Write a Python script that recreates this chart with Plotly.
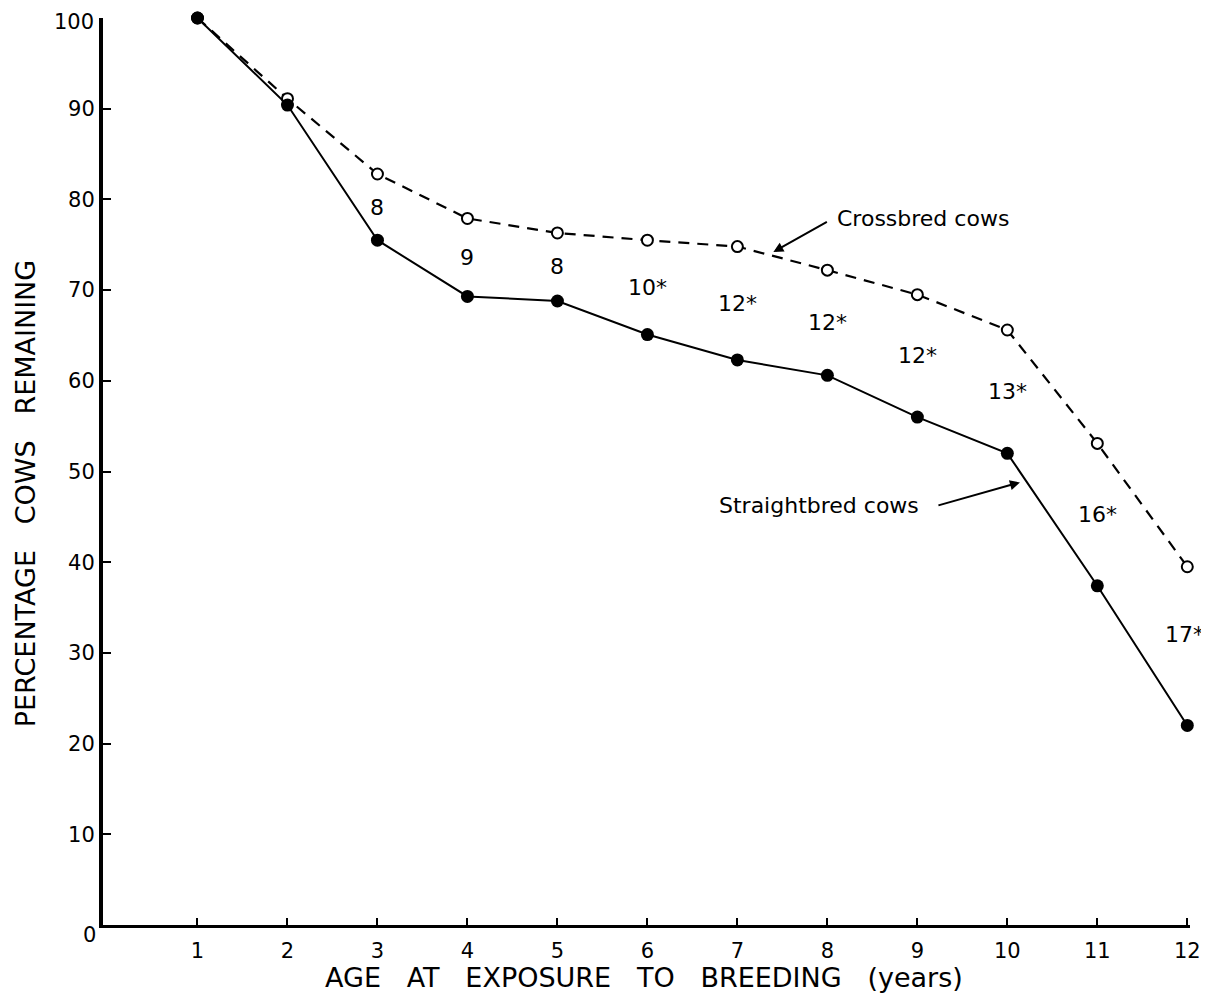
import plotly.graph_objects as go

ages = [1, 2, 3, 4, 5, 6, 7, 8, 9, 10, 11, 12]
straightbred = [100, 90.4, 75.5, 69.3, 68.8, 65.1, 62.3, 60.6, 56.0, 52.0, 37.4, 22.0]
crossbred = [100, 91.1, 82.8, 77.9, 76.3, 75.5, 74.8, 72.2, 69.5, 65.6, 53.1, 39.5]
diff_ages = [3, 4, 5, 6, 7, 8, 9, 10, 11, 12]
diff_labels = ["8", "9", "8", "10*", "12*", "12*", "12*", "13*", "16*", "17*"]
y_ticks = [10, 20, 30, 40, 50, 60, 70, 80, 90, 100]

FONT = "DejaVu Sans"

fig = go.Figure()
fig.add_trace(go.Scatter(
    x=ages, y=crossbred, mode="lines+markers", name="Crossbred cows",
    line=dict(color="black", width=2.2, dash="11px,8px"),
    marker=dict(symbol="circle", size=11, color="white", line=dict(color="black", width=2)),
    cliponaxis=False,
))
fig.add_trace(go.Scatter(
    x=ages, y=straightbred, mode="lines+markers", name="Straightbred cows",
    line=dict(color="black", width=2),
    marker=dict(symbol="circle", size=13, color="black"),
    cliponaxis=False,
))

# difference labels midway between the two curves
mid = {a: (s + c) / 2 for a, s, c in zip(ages, straightbred, crossbred)}
for a, lab in zip(diff_ages, diff_labels):
    fig.add_annotation(x=a, y=mid[a], text=lab, showarrow=False,
                       xanchor="center", yanchor="middle",
                       yshift=12 if a == 12 else 0, xshift=-3 if a == 12 else 0,
                       font=dict(family=FONT, size=22, color="black"))

# series labels with arrows
fig.add_annotation(x=8.09, y=77.9, text="Crossbred cows", showarrow=False,
                   xanchor="left", yanchor="middle",
                   font=dict(family=FONT, size=22, color="black"))
fig.add_annotation(x=7.4, y=74.2, ax=57, ay=-32, text=" ", showarrow=True,
                   arrowhead=2, arrowsize=1, arrowwidth=2, arrowcolor="black")
fig.add_annotation(x=6.77, y=46.2, text="Straightbred cows", showarrow=False,
                   xanchor="left", yanchor="middle",
                   font=dict(family=FONT, size=22, color="black"))
fig.add_annotation(x=10.14, y=48.8, ax=-85, ay=24, text=" ", showarrow=True,
                   arrowhead=2, arrowsize=1, arrowwidth=2, arrowcolor="black")

# origin label and top tick label (kept inside the figure edge)
fig.add_annotation(xref="paper", yref="y", x=0, y=0, text="0", showarrow=False,
                   xanchor="right", yanchor="top", xshift=-5, yshift=4,
                   font=dict(family=FONT, size=21, color="black"))
fig.add_annotation(xref="paper", yref="paper", x=0, y=1, text=str(y_ticks[-1]), showarrow=False,
                   xanchor="right", yanchor="top", xshift=-7, yshift=10,
                   font=dict(family=FONT, size=21, color="black"))

# axis titles
sp = "\u00a0\u00a0\u00a0"
fig.add_annotation(xref="paper", yref="paper", x=0.498, y=0, yshift=-52,
                   text=sp.join(["AGE", "AT", "EXPOSURE", "TO", "BREEDING", "(years)"]),
                   showarrow=False, xanchor="center", yanchor="middle",
                   font=dict(family=FONT, size=27, color="black"))
fig.add_annotation(xref="paper", yref="paper", x=0, xshift=-78, y=0.476,
                   text=sp.join(["PERCENTAGE", "COWS", "REMAINING"]), textangle=-90,
                   showarrow=False, xanchor="center", yanchor="middle",
                   font=dict(family=FONT, size=27, color="black"))

# the page body has an 8px margin, so the figure is 8px smaller on each leading side
fig.update_layout(
    width=1201, height=991,
    margin=dict(l=95, r=19, t=10, b=74, autoexpand=False),
    paper_bgcolor="white", plot_bgcolor="white",
    showlegend=False,
    font=dict(family=FONT, color="black"),
    xaxis=dict(
        range=[-0.05, 12.03], tickvals=ages, ticktext=[str(a) for a in ages],
        showgrid=False, zeroline=False, showline=True, linecolor="black", linewidth=3,
        ticks="inside", ticklen=7, tickwidth=2, tickcolor="black",
        tickfont=dict(family=FONT, size=21, color="black"),
        ticklabelstandoff=5, automargin=False, ticklabeloverflow="allow",
    ),
    yaxis=dict(
        range=[0, 100], tickvals=y_ticks,
        ticktext=[str(v) for v in y_ticks[:-1]] + [""],
        showgrid=False, zeroline=False, showline=True, linecolor="black", linewidth=4,
        ticks="inside", ticklen=8, tickwidth=2, tickcolor="black",
        tickfont=dict(family=FONT, size=21, color="black"),
        automargin=False,
    ),
)

fig.write_html("out.html")
